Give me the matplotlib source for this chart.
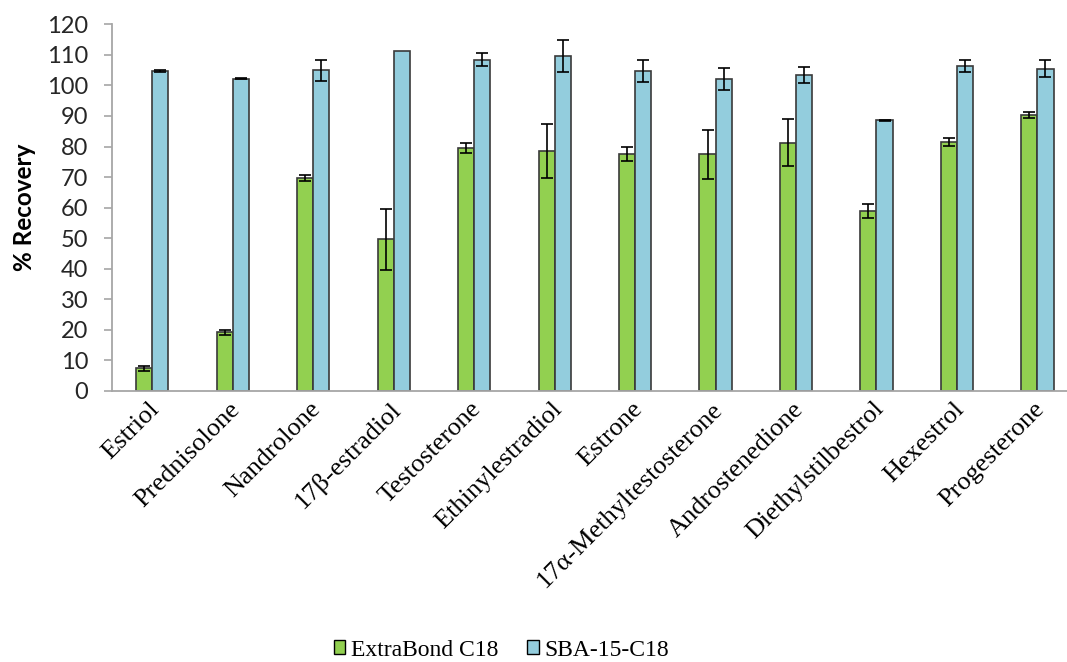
import numpy as np
import matplotlib
matplotlib.use("Agg")
import matplotlib.pyplot as plt
import matplotlib.transforms as mtransforms
from matplotlib.patches import Patch

compounds = ["Estriol", "Prednisolone", "Nandrolone", "17β-estradiol", "Testosterone",
             "Ethinylestradiol", "Estrone", "17α-Methyltestosterone", "Androstenedione",
             "Diethylstilbestrol", "Hexestrol", "Progesterone"]

extrabond = [7.4, 19.2, 69.8, 49.7, 79.6, 78.6, 77.4, 77.4, 81.2, 58.9, 81.5, 90.3]
extrabond_err = [0.7, 0.8, 1.0, 10.0, 1.7, 8.8, 2.3, 8.0, 7.7, 2.2, 1.4, 1.0]
sba = [104.7, 102.2, 105.0, 111.4, 108.4, 109.7, 104.7, 102.1, 103.4, 88.6, 106.3, 105.5]
sba_err = [0.3, 0.2, 3.4, 0.0, 2.1, 5.2, 3.7, 3.5, 2.7, 0.15, 2.0, 2.9]

green = "#92D050"
blue = "#93CDDD"
edge = "#3a3a3a"
axis_grey = "#A6A6A6"

fig = plt.figure(figsize=(10.67, 6.62), dpi=100)
ax = fig.add_axes([0.105, 0.4094, 0.905, 0.5539])

x = np.arange(len(compounds))
w = 0.2
ax.bar(x - w / 2, extrabond, w, color=green, edgecolor=edge, linewidth=1.2, zorder=2)
ax.bar(x + w / 2, sba, w, color=blue, edgecolor=edge, linewidth=1.2, zorder=2)

# error bars (skip the ones with no spread)
eb = np.array(extrabond_err)
sb = np.array(sba_err)
m1 = eb > 0
m2 = sb > 0
ax.errorbar(x[m1] - w / 2, np.array(extrabond)[m1], yerr=eb[m1], fmt="none",
            ecolor="black", elinewidth=1.2, capsize=4.5, capthick=1.2, zorder=3)
ax.errorbar(x[m2] + w / 2, np.array(sba)[m2], yerr=sb[m2], fmt="none",
            ecolor="black", elinewidth=1.2, capsize=4.5, capthick=1.2, zorder=3)

ax.set_xlim(-0.5, len(compounds) - 0.5)
ax.set_ylim(0, 120)
ax.set_yticks(np.arange(0, 121, 10))

for s in ["top", "right"]:
    ax.spines[s].set_visible(False)
for s in ["left", "bottom"]:
    ax.spines[s].set_color(axis_grey)
    ax.spines[s].set_linewidth(1.3)
ax.spines["left"].set_zorder(1)

ax.tick_params(axis="y", direction="out", length=6, width=1.2, color=axis_grey,
               pad=11, labelsize=17, labelcolor="#262626")
for lab in ax.get_yticklabels():
    lab.set_fontfamily("Lato")

ax.set_xticks(x)
ax.tick_params(axis="x", length=0, pad=5)
ax.set_xticklabels(compounds, rotation=45, ha="right", va="top",
                   rotation_mode="anchor", fontsize=19, family="Liberation Serif")
# nudge the slanted names a little to the left
shift = mtransforms.ScaledTranslation(-4 / 100, 0, fig.dpi_scale_trans)
for lab in ax.get_xticklabels():
    lab.set_transform(lab.get_transform() + shift)

ax.set_ylabel("% Recovery", fontsize=17.5, fontweight="bold", family="Lato", labelpad=8)

handles = [Patch(facecolor=green, edgecolor="black", linewidth=1.0, label="ExtraBond C18"),
           Patch(facecolor=blue, edgecolor="black", linewidth=1.0, label="SBA-15-C18")]
fig.legend(handles=handles, loc="center", bbox_to_anchor=(0.47, 0.018), ncol=2,
           frameon=False, prop={"family": "Liberation Serif", "size": 17},
           handlelength=0.5, handleheight=0.5, handletextpad=0.25, columnspacing=1.2)

fig.savefig("out.png", dpi=100)
